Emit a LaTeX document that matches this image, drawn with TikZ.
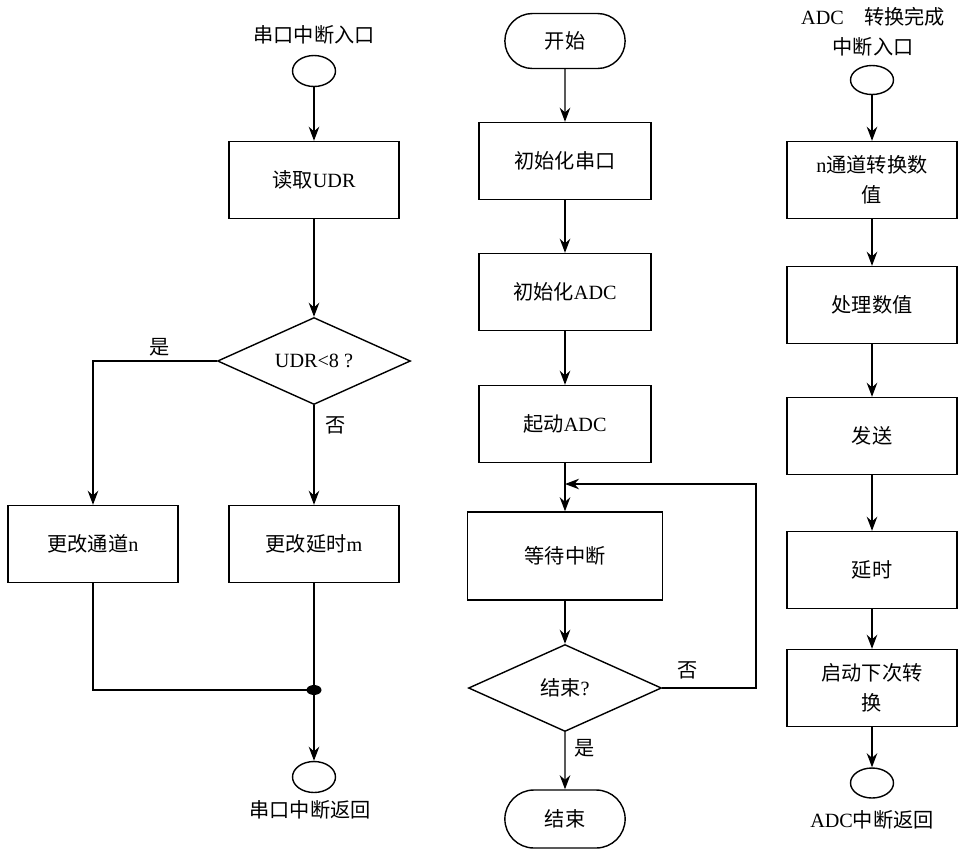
\documentclass[tikz,border=0pt]{standalone}
\usepackage{fontspec}
\setmainfont{Liberation Serif}
\newfontfamily\cjk{Noto Sans CJK SC}
\newcommand{\en}[1]{{\rmfamily #1}}
\usetikzlibrary{shapes.geometric,shapes.misc,arrows.meta}
\tikzset{
	>={Stealth[length=8pt,width=6pt]},
	every node/.style={font=\cjk\fontsize{11.5}{17}\selectfont},
	box/.style={draw, line width=0.8pt, minimum width=3.4cm, minimum height=1.54cm, align=center},
	decide/.style={draw, diamond, line width=0.8pt, aspect=2.2, inner sep=0pt, minimum width=3.86cm, minimum height=1.74cm},
	term/.style={draw, rounded rectangle, line width=0.8pt, minimum width=2.64cm, minimum height=1.1cm},
	port/.style={draw, ellipse, line width=0.8pt, minimum width=0.86cm, minimum height=0.62cm, inner sep=0pt},
	lbl/.style={align=center},
	flow/.style={->, line width=0.8pt}
}
\begin{document}
\begin{tikzpicture}[x=0.02cm,y=-0.02cm]
	\useasboundingbox (0,0) rectangle (967,856);
	% serial interrupt routine
	\node[lbl] (sin) at (314,35) {串口中断入口};
	\node[port] (sp) at (314,71) {};
	\node[box] (rd) at (314,180) {读取\en{UDR}};
	\node[decide] (cmp) at (314,361) {\en{UDR<8 ?}};
	\node[box] (chn) at (93,544) {更改通道\en{n}};
	\node[box] (chm) at (314,544) {更改延时\en{m}};
	\coordinate (mg) at (314,690);
	\node[port] (sr) at (314,777) {};
	\node[lbl] (sout) at (310,810) {串口中断返回};
	\draw[flow] (sp) -- (rd);
	\draw[flow] (rd) -- (cmp);
	\draw[flow] (cmp.west) -| (chn);
	\node (yes1) at (160,347) {是};
	\draw[flow] (cmp) -- (chm);
	\node (no1) at (336,425) {否};
	\draw[line width=0.8pt] (chn) |- (mg);
	\draw[line width=0.8pt] (chm) -- (mg);
	\fill (mg) ellipse (0.15cm and 0.1cm);
	\draw[flow] (mg) -- (sr);
	% main program
	\node[term] (st) at (565,41) {开始};
	\node[box, minimum width=3.44cm] (iu) at (565,161) {初始化串口};
	\node[box, minimum width=3.44cm] (ia) at (565,292) {初始化\en{ADC}};
	\node[box, minimum width=3.44cm] (sa) at (565,424) {起动\en{ADC}};
	\coordinate (jn) at (565,484);
	\node[box, minimum width=3.9cm, minimum height=1.76cm] (wt) at (565,556) {等待中断};
	\node[decide] (fin) at (565,688) {结束\en{?}};
	\node[term, minimum height=1.16cm] (en) at (565,819) {结束};
	\coordinate (lp) at (756,484);
	\draw[flow] (st) -- (iu);
	\draw[flow] (iu) -- (ia);
	\draw[flow] (ia) -- (sa);
	\draw[flow] (sa) -- (wt);
	\draw[flow] (wt) -- (fin);
	\draw[flow] (fin.east) -| (lp) -- (jn);
	\node (no2) at (688,670) {否};
	\draw[flow] (fin) -- (en);
	\node (yes2) at (585,748) {是};
	% ADC interrupt routine
	\node[lbl] (ain) at (873,32) {\en{ADC}\quad 转换完成\\中断入口};
	\node[port, minimum height=0.58cm] (ap) at (872,80) {};
	\node[box] (cv) at (872,180) {\en{n}通道转换数\\值};
	\node[box] (pr) at (872,305) {处理数值};
	\node[box] (sd) at (872,436) {发送};
	\node[box] (dl) at (872,570) {延时};
	\node[box] (nx) at (872,688) {启动下次转\\换};
	\node[port, minimum height=0.6cm] (ar) at (872,783) {};
	\node[lbl] (aout) at (872,820) {\en{ADC}中断返回};
	\draw[flow] (ap) -- (cv);
	\draw[flow] (cv) -- (pr);
	\draw[flow] (pr) -- (sd);
	\draw[flow] (sd) -- (dl);
	\draw[flow] (dl) -- (nx);
	\draw[flow] (nx) -- (ar);
\end{tikzpicture}
\end{document}
